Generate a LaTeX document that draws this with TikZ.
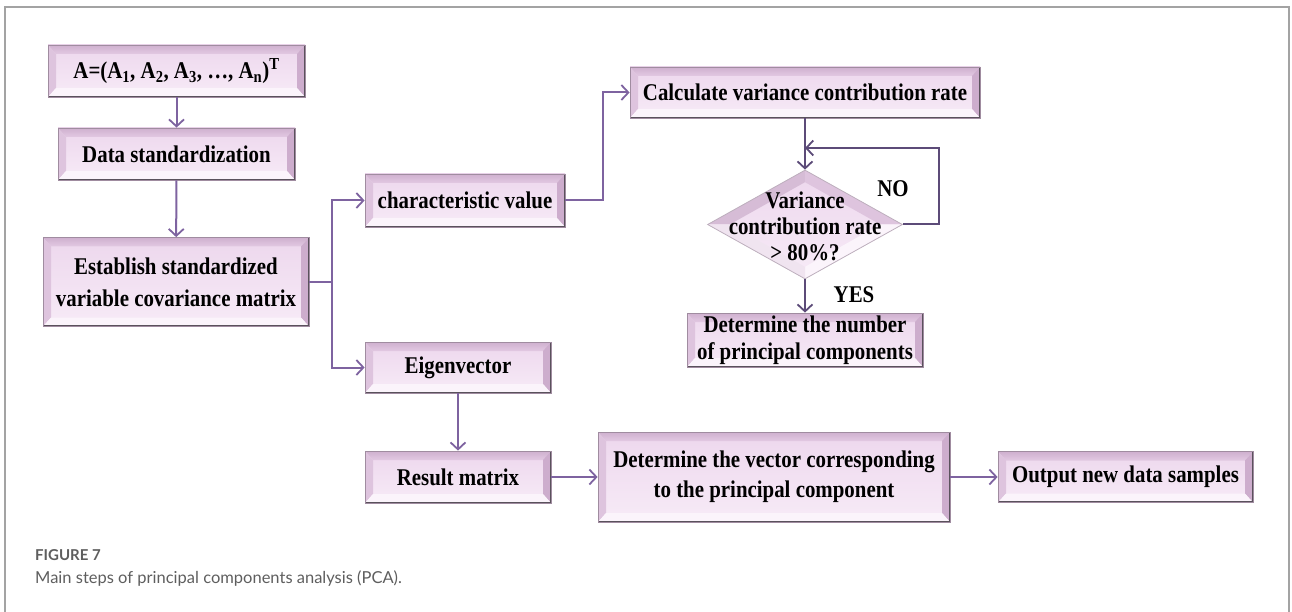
\documentclass[tikz,border=0pt]{standalone}
\usepackage{fontspec}
\setmainfont[FakeStretch=0.87]{Liberation Serif}
\newfontfamily\capfont{Lato}
\usetikzlibrary{arrows.meta,shapes.geometric}

% palette
\definecolor{facetop}{HTML}{EDD7ED}
\definecolor{facebot}{HTML}{F7EBF7}
\definecolor{bvtopA}{HTML}{CFB0CF}
\definecolor{bvtopB}{HTML}{E2C9E2}
\definecolor{bvleft}{HTML}{DEC4DE}
\definecolor{bvright}{HTML}{CDADCD}
\definecolor{bvbot}{HTML}{FBF4FB}
\definecolor{edgecol}{HTML}{A08CA0}
\definecolor{shadowcol}{HTML}{5A525C}
\definecolor{lcol}{HTML}{7E63A0}
\definecolor{dcol}{HTML}{5C4B78}
\definecolor{framecol}{HTML}{A3A3A3}
\definecolor{capgray}{HTML}{5E5E5E}

\tikzset{
  x=1pt, y=-1pt,
  bevelbox/.style={rectangle, inner sep=0pt, align=center, text=black,
    font=\fontsize{24}{30}\selectfont\bfseries,
    draw=edgecol, line width=0.8pt,
    top color=facetop, bottom color=facebot,
    path picture={
      \coordinate (pnw) at (path picture bounding box.north west);
      \coordinate (pne) at (path picture bounding box.north east);
      \coordinate (psw) at (path picture bounding box.south west);
      \coordinate (pse) at (path picture bounding box.south east);
      \shade[top color=bvtopA, bottom color=bvtopB]
        (pnw) -- (pne) -- ([xshift=-8pt,yshift=-9pt]pne) -- ([xshift=8pt,yshift=-9pt]pnw) -- cycle;
      \fill[bvleft]
        (pnw) -- ([xshift=8pt,yshift=-9pt]pnw) -- ([xshift=8pt,yshift=9pt]psw) -- (psw) -- cycle;
      \fill[bvright]
        (pne) -- ([xshift=-8pt,yshift=-9pt]pne) -- ([xshift=-8pt,yshift=9pt]pse) -- (pse) -- cycle;
      \fill[bvbot]
        (psw) -- ([xshift=8pt,yshift=9pt]psw) -- ([xshift=-8pt,yshift=9pt]pse) -- (pse) -- cycle;
      \draw[shadowcol, line width=2.4pt] (pne) -- (pse) -- (psw);
    }},
  bevelgem/.style={diamond, inner sep=0pt,
    draw=edgecol!70, line width=0.8pt,
    top color=facetop, bottom color=facebot,
    path picture={
      \coordinate (pn) at (path picture bounding box.north);
      \coordinate (ps) at (path picture bounding box.south);
      \coordinate (pe) at (path picture bounding box.east);
      \coordinate (pw) at (path picture bounding box.west);
      \fill[bvtopA!85] (pw) -- (pn) -- ([yshift=-12pt]pn) -- ([xshift=22pt]pw) -- cycle;
      \fill[bvleft] (pn) -- (pe) -- ([xshift=-22pt]pe) -- ([yshift=-12pt]pn) -- cycle;
      \fill[bvbot] (pe) -- (ps) -- ([yshift=12pt]ps) -- ([xshift=-22pt]pe) -- cycle;
      \fill[bvleft!45] (ps) -- (pw) -- ([xshift=22pt]pw) -- ([yshift=12pt]ps) -- cycle;
    }},
  plain/.style={inner sep=0pt, align=center, text=black},
  conn/.style={draw=lcol, line width=2pt,
    -{Straight Barb[length=7pt,width=15pt,line width=1.8pt]}},
  dconn/.style={conn, draw=dcol},
  wire/.style={draw=lcol, line width=2pt},
}

\begin{document}
\begin{tikzpicture}
\useasboundingbox (0,0) rectangle (1292,612);

% outer frame
\draw[framecol, line width=1.5pt] (5,612) -- (5,7) -- (1289,7) -- (1289,612);

% left column
\node[bevelbox, minimum width=257pt, minimum height=52pt] (vecA) at (176.5,71)
  {A=(A\textsubscript{1}, A\textsubscript{2}, A\textsubscript{3}, \ldots, A\textsubscript{n})\textsuperscript{T}};
\node[bevelbox, minimum width=237pt, minimum height=52pt] (std) at (176.5,154)
  {Data standardization};
\node[bevelbox, minimum width=266pt, minimum height=89pt,
      font=\fontsize{24}{32}\selectfont\bfseries] (cov) at (176,282)
  {Establish standardized\\variable covariance matrix};

% middle column
\node[bevelbox, minimum width=200pt, minimum height=53pt] (cval) at (465,200.5)
  {characteristic value};
\node[bevelbox, minimum width=186pt, minimum height=51pt] (eig) at (458,367.5)
  {Eigenvector};
\node[bevelbox, minimum width=186pt, minimum height=52pt] (res) at (458,477)
  {Result matrix};

% right part
\node[bevelbox, minimum width=350pt, minimum height=51pt] (calc) at (805,92.5)
  {Calculate variance contribution rate};
\node[bevelgem, minimum width=195pt, minimum height=109pt] (test) at (805,224.5) {};
\node[plain, font=\fontsize{24}{26}\selectfont\bfseries] (testtxt) at (805,226)
  {Variance\\contribution rate\\> 80\%?};
\node[bevelbox, minimum width=236pt, minimum height=54pt,
      font=\fontsize{24}{27}\selectfont\bfseries] (num) at (805,340)
  {Determine the number\\of principal components};
\node[bevelbox, minimum width=352pt, minimum height=90pt] (vec) at (774,477)
  {Determine the vector corresponding\\to the principal component};
\node[bevelbox, minimum width=255pt, minimum height=51pt] (out) at (1125.5,477)
  {Output new data samples};

% branch labels
\node[plain, font=\fontsize{24}{24}\selectfont\bfseries] (no) at (893,189) {NO};
\node[plain, font=\fontsize{24}{24}\selectfont\bfseries] (yes) at (854,295) {YES};

% junction points
\coordinate (split) at (332,282);
\coordinate (hop) at (603,200);
\coordinate (loop) at (939,148);

% connectors
\draw[conn] (vecA) -- (std);
\draw[conn] (std) -- (cov);
\draw[wire] (cov.east) -- (split);
\draw[conn] (split) |- (cval.west);
\draw[conn] (split) |- (eig.west);
\draw[conn] (cval.east) -- (cval.east -| hop) |- (calc.west);
\draw[dconn] (calc) -- (test);
\draw[dconn] (test.east) -| (loop) -- (loop -| test.north);
\draw[dconn] (test) -- (num);
\draw[conn] (eig) -- (res);
\draw[conn] (res) -- (vec);
\draw[conn] (vec) -- (out);

% caption
\node[anchor=base west, inner sep=0pt, text=capgray,
      font=\capfont\bfseries\fontsize{15}{17}\selectfont] (fig) at (35,560) {FIGURE 7};
\node[anchor=base west, inner sep=0pt, text=capgray,
      font=\capfont\fontsize{16.5}{20}\selectfont] (cap) at (35,583)
  {Main steps of principal components analysis (PCA).};
\end{tikzpicture}
\end{document}
